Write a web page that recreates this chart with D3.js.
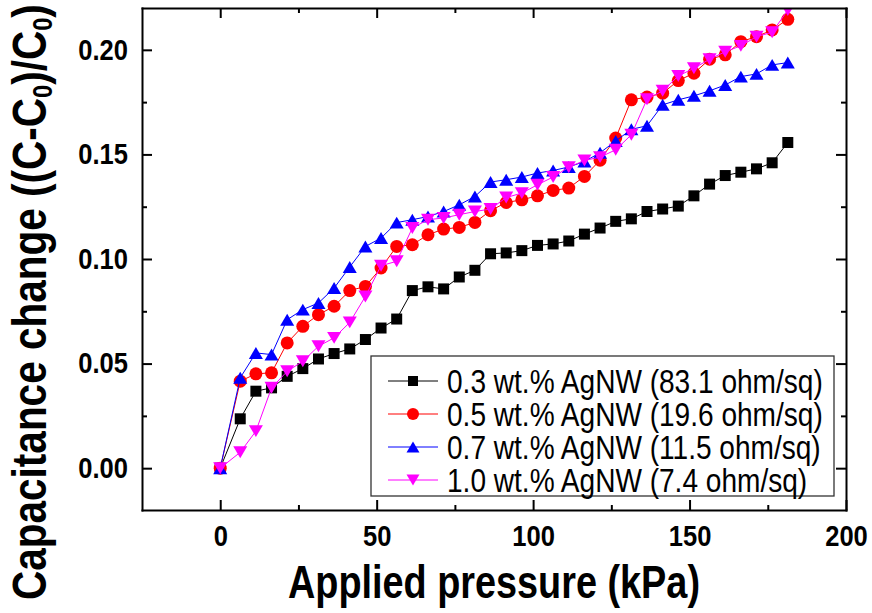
<!DOCTYPE html>
<html>
<head>
<meta charset="utf-8">
<script src="https://cdn.jsdelivr.net/npm/d3@7"></script>
<style>
  html, body { margin: 0; padding: 0; background: #ffffff; }
  svg { display: block; }
</style>
</head>
<body>
<svg id="chart" width="872" height="613"></svg>
<script>
// Applied pressure (kPa) at each measurement step
const pressure = [0, 6.4, 11.4, 16.4, 21.4, 26.4, 31.4, 36.4, 41.4, 46.4,
  51.4, 56.4, 61.4, 66.4, 71.4, 76.4, 81.4, 86.4, 91.4, 96.4,
  101.4, 106.4, 111.4, 116.4, 121.4, 126.4, 131.4, 136.4, 141.4, 146.4,
  151.4, 156.4, 161.4, 166.4, 171.4, 176.4, 181.4];

// Relative capacitance change (C-C0)/C0 for each AgNW loading
const agnw03 = [0, 0.0236, 0.0368, 0.0384, 0.0439, 0.0476, 0.0522, 0.0548, 0.0570, 0.0615,
  0.0670, 0.0713, 0.0849, 0.0867, 0.0857, 0.0914, 0.0946, 0.1025, 0.1029, 0.1040,
  0.1065, 0.1072, 0.1086, 0.1119, 0.1148, 0.1180, 0.1192, 0.1227, 0.1239, 0.1253,
  0.1302, 0.1358, 0.1399, 0.1415, 0.1431, 0.1460, 0.1557];
const agnw05 = [0, 0.0416, 0.0451, 0.0456, 0.0599, 0.0678, 0.0734, 0.0774, 0.0849, 0.0869,
  0.0957, 0.1060, 0.1068, 0.1116, 0.1143, 0.1151, 0.1175, 0.1231, 0.1270, 0.1283,
  0.1302, 0.1328, 0.1339, 0.1395, 0.1472, 0.1578, 0.1761, 0.1774, 0.1793, 0.1853,
  0.1888, 0.1955, 0.1976, 0.2039, 0.2063, 0.2095, 0.2146];
const agnw07 = [0, 0.0432, 0.0551, 0.0543, 0.0710, 0.0758, 0.0790, 0.0861, 0.0962, 0.1060,
  0.1100, 0.1174, 0.1188, 0.1203, 0.1227, 0.1259, 0.1299, 0.1368, 0.1379, 0.1392,
  0.1411, 0.1423, 0.1440, 0.1466, 0.1508, 0.1564, 0.1620, 0.1637, 0.1737, 0.1761,
  0.1780, 0.1804, 0.1832, 0.1872, 0.1885, 0.1928, 0.1939];
const agnw10 = [0, 0.0076, 0.0177, 0.0384, 0.0463, 0.0511, 0.0583, 0.0623, 0.0697, 0.0821,
  0.0968, 0.0989, 0.1148, 0.1188, 0.1196, 0.1212, 0.1227, 0.1239, 0.1294, 0.1315,
  0.1355, 0.1392, 0.1439, 0.1471, 0.1487, 0.1522, 0.1594, 0.1764, 0.1804, 0.1875,
  0.1912, 0.1955, 0.1991, 0.2019, 0.2063, 0.2084, 0.2190];

const seriesLabels = [
  "0.3 wt.% AgNW (83.1 ohm/sq)",
  "0.5 wt.% AgNW (19.6 ohm/sq)",
  "0.7 wt.% AgNW (11.5 ohm/sq)",
  "1.0 wt.% AgNW (7.4 ohm/sq)"
];
const seriesColors = ["#000000", "#ff0000", "#0000ff", "#ff00ff"];
const seriesShapes = ["square", "circle", "triangleUp", "triangleDown"];

const xMajorTicks = [0, 50, 100, 150, 200];
const xMinorTicks = [25, 75, 125, 175];
const yMajorTicks = [0, 0.05, 0.10, 0.15, 0.20];
const yMinorTicks = [0.025, 0.075, 0.125, 0.175];

const xTitle = "Applied pressure (kPa)";

const series = [agnw03, agnw05, agnw07, agnw10].map((vals, i) => ({
  label: seriesLabels[i],
  color: seriesColors[i],
  shape: seriesShapes[i],
  points: vals.map((v, j) => ({ x: pressure[j], y: v }))
}));

const svg = d3.select("#chart");
const plot = { left: 142, right: 846, top: 8, bottom: 510 };

const x = d3.scaleLinear().domain([-25, 200]).range([plot.left, plot.right]);
const y = d3.scaleLinear().domain([-0.02, 0.22]).range([plot.bottom, plot.top]);

const FONT = "'Liberation Sans', Arial, Helvetica, sans-serif";

// squeeze text horizontally around its anchor
function condense(sel, s) {
  sel.each(function () {
    const t = d3.select(this);
    const x0 = +t.attr("x") || 0;
    t.attr("x", x0 / s).attr("transform", `scale(${s},1)`);
  });
}

// marker path generator
function markerPath(shape, size) {
  const h = size / 2;
  switch (shape) {
    case "square": return `M${-h},${-h}H${h}V${h}H${-h}Z`;
    case "circle": return d3.symbol(d3.symbolCircle, Math.PI * h * h)();
    case "triangleUp": {
      const w = size * 1.08 / 2, hh = size * 0.92 / 2;
      return `M0,${-hh}L${w},${hh}L${-w},${hh}Z`;
    }
    case "triangleDown": {
      const w = size * 1.08 / 2, hh = size * 0.92 / 2;
      return `M0,${hh}L${w},${-hh}L${-w},${-hh}Z`;
    }
  }
}

// clip for data
svg.append("defs").append("clipPath").attr("id", "plotClip")
  .append("rect")
  .attr("x", plot.left).attr("y", plot.top)
  .attr("width", plot.right - plot.left).attr("height", plot.bottom - plot.top);

const dataLayer = svg.append("g").attr("clip-path", "url(#plotClip)");

const line = d3.line().x(d => x(d.x)).y(d => y(d.y));
const markerSize = { square: 11, circle: 13, triangleUp: 13, triangleDown: 13 };

series.forEach(s => {
  const g = dataLayer.append("g");
  g.append("path")
    .attr("d", line(s.points))
    .attr("fill", "none")
    .attr("stroke", s.color)
    .attr("stroke-width", 1);
  g.selectAll("path.mk")
    .data(s.points)
    .join("path")
    .attr("class", "mk")
    .attr("transform", d => `translate(${x(d.x)},${y(d.y)})`)
    .attr("d", markerPath(s.shape, markerSize[s.shape]))
    .attr("fill", s.color);
});

// axes
function styleAxis(g) {
  g.select(".domain").attr("stroke", "#000").attr("stroke-width", 2).attr("stroke-linecap", "square");
  g.selectAll(".tick line").attr("stroke", "#000").attr("stroke-width", 2);
}

const tickFont = 29;
const tickSqueeze = 0.88;

const xAxisBottom = svg.append("g")
  .attr("transform", `translate(0,${plot.bottom})`)
  .call(d3.axisBottom(x).tickValues(xMajorTicks).tickSize(-10).tickSizeOuter(0).tickPadding(15).tickFormat(d3.format("d")));
styleAxis(xAxisBottom);
xAxisBottom.selectAll("text")
  .attr("font-family", FONT).attr("font-size", tickFont).attr("font-weight", "bold").attr("fill", "#000")
  .call(condense, tickSqueeze);

svg.append("g")
  .attr("transform", `translate(0,${plot.bottom})`)
  .call(d3.axisBottom(x).tickValues(xMinorTicks).tickSize(-5).tickSizeOuter(0).tickFormat(""))
  .call(g => { g.select(".domain").remove(); g.selectAll("line").attr("stroke", "#000").attr("stroke-width", 2); });

const xAxisTop = svg.append("g")
  .attr("transform", `translate(0,${plot.top})`)
  .call(d3.axisTop(x).tickValues(xMajorTicks).tickSize(-10).tickSizeOuter(0).tickFormat(""));
styleAxis(xAxisTop);
svg.append("g")
  .attr("transform", `translate(0,${plot.top})`)
  .call(d3.axisTop(x).tickValues(xMinorTicks).tickSize(-5).tickSizeOuter(0).tickFormat(""))
  .call(g => { g.select(".domain").remove(); g.selectAll("line").attr("stroke", "#000").attr("stroke-width", 2); });

const yAxisLeft = svg.append("g")
  .attr("transform", `translate(${plot.left},0)`)
  .call(d3.axisLeft(y).tickValues(yMajorTicks).tickSize(-10).tickSizeOuter(0).tickPadding(14).tickFormat(d3.format(".2f")));
styleAxis(yAxisLeft);
yAxisLeft.selectAll("text")
  .attr("font-family", FONT).attr("font-size", tickFont).attr("font-weight", "bold").attr("fill", "#000")
  .call(condense, tickSqueeze);
svg.append("g")
  .attr("transform", `translate(${plot.left},0)`)
  .call(d3.axisLeft(y).tickValues(yMinorTicks).tickSize(-5).tickSizeOuter(0).tickFormat(""))
  .call(g => { g.select(".domain").remove(); g.selectAll("line").attr("stroke", "#000").attr("stroke-width", 2); });

const yAxisRight = svg.append("g")
  .attr("transform", `translate(${plot.right},0)`)
  .call(d3.axisRight(y).tickValues(yMajorTicks).tickSize(-10).tickSizeOuter(0).tickFormat(""));
styleAxis(yAxisRight);
svg.append("g")
  .attr("transform", `translate(${plot.right},0)`)
  .call(d3.axisRight(y).tickValues(yMinorTicks).tickSize(-5).tickSizeOuter(0).tickFormat(""))
  .call(g => { g.select(".domain").remove(); g.selectAll("line").attr("stroke", "#000").attr("stroke-width", 2); });

// fit a text element to a target length along its own direction
function fitLength(textSel, target) {
  const w = textSel.node().getBBox().width;
  textSel.attr("transform", `scale(${target / w},1)`);
}

// x axis title
const xTitleG = svg.append("g").attr("transform", "translate(288,598)");
const xTitleText = xTitleG.append("text")
  .attr("font-family", FONT).attr("font-size", 46).attr("font-weight", "bold").attr("fill", "#000")
  .text(xTitle);
fitLength(xTitleText, 412);

// y axis title with subscripts
const yTitleG = svg.append("g").attr("transform", "translate(46,600) rotate(-90)");
const yTitleText = yTitleG.append("text")
  .attr("font-family", FONT).attr("font-size", 48).attr("font-weight", "bold").attr("fill", "#000");
yTitleText.append("tspan").text("Capacitance change ((C-C");
yTitleText.append("tspan").attr("font-size", 28).attr("dy", 6).text("0");
yTitleText.append("tspan").attr("dy", -6).text(")/C");
yTitleText.append("tspan").attr("font-size", 28).attr("dy", 6).text("0");
yTitleText.append("tspan").attr("dy", -6).text(")");
fitLength(yTitleText, 596);

// legend
const legend = svg.append("g");
legend.append("rect")
  .attr("x", 371).attr("y", 356).attr("width", 463).attr("height", 140)
  .attr("fill", "#fff").attr("stroke", "#333").attr("stroke-width", 1.3);

const legendRowY = d3.scalePoint().domain(seriesLabels).range([381, 480]);
const legendMarkerSize = { square: 10, circle: 12, triangleUp: 12, triangleDown: 12 };
const legendTexts = [];
series.forEach(s => {
  const cy = legendRowY(s.label);
  const row = legend.append("g").attr("transform", `translate(0,${cy})`);
  row.append("line").attr("x1", 388).attr("x2", 438).attr("y1", 0).attr("y2", 0)
    .attr("stroke", s.color).attr("stroke-width", 1);
  row.append("path").attr("transform", "translate(413,0)")
    .attr("d", markerPath(s.shape, legendMarkerSize[s.shape])).attr("fill", s.color);
  const tg = row.append("g").attr("transform", "translate(447,12)");
  legendTexts.push(tg.append("text")
    .attr("font-family", FONT).attr("font-size", 34).attr("fill", "#000")
    .text(s.label));
});
const legendScale = 376 / legendTexts[0].node().getBBox().width;
legendTexts.forEach(t => t.attr("transform", `scale(${legendScale},1)`));
</script>
</body>
</html>
